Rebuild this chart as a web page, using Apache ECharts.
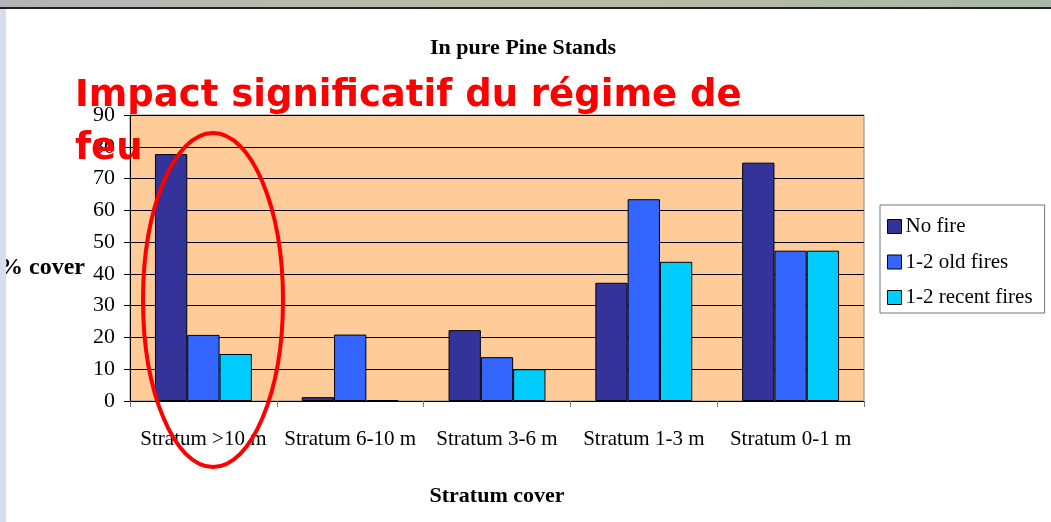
<!DOCTYPE html>
<html>
<head>
<meta charset="utf-8">
<script src="https://cdn.jsdelivr.net/npm/echarts@6/dist/echarts.min.js"></script>
<style>
  html, body { margin: 0; padding: 0; background: #fff; }
  #main { width: 1051px; height: 522px; }
</style>
</head>
<body>
<div id="main"></div>
<script>
const categories = ['Stratum >10 m', 'Stratum 6-10 m', 'Stratum 3-6 m', 'Stratum 1-3 m', 'Stratum 0-1 m'];
const noFire = [77.7, 1.2, 22.3, 37.2, 75.0];
const oldFires = [20.8, 20.9, 13.8, 63.5, 47.3];
const recentFires = [14.8, 0.3, 10.0, 43.8, 47.3];
const seriesNames = ['No fire', '1-2 old fires', '1-2 recent fires'];

const serif = '"Liberation Serif", "Times New Roman", serif';

function barSeries(name, data, color) {
  return {
    name: name,
    type: 'bar',
    data: data,
    barGap: '0%',
    barCategoryGap: '34%',
    itemStyle: {
      color: color,
      borderColor: '#000',
      borderWidth: 1
    }
  };
}

const chart = echarts.init(document.getElementById('main'), null, { renderer: 'canvas' });

const option = {
  animation: false,
  backgroundColor: '#fff',
  title: {
    text: 'In pure Pine Stands',
    left: 518,
    top: 32,
    textAlign: 'center',
    textStyle: { fontFamily: serif, fontSize: 22, fontWeight: 'bold', color: '#000' }
  },
  legend: {
    orient: 'vertical',
    left: 880,
    top: 205,
    padding: [11, 12, 5, 7],
    itemGap: 14.5,
    itemWidth: 14,
    itemHeight: 14,
    icon: 'rect',
    borderColor: '#777',
    borderWidth: 1,
    data: seriesNames,
    itemStyle: { borderColor: '#000', borderWidth: 1 },
    textStyle: { fontFamily: serif, fontSize: 21, color: '#000', padding: [0, 0, 0, -1] }
  },
  grid: {
    left: 130,
    right: 187,
    top: 115,
    bottom: 121,
    show: true,
    backgroundColor: '#FFCC99',
    borderColor: '#888',
    borderWidth: 1
  },
  xAxis: {
    type: 'category',
    data: categories,
    name: 'Stratum cover',
    nameLocation: 'middle',
    nameGap: 84,
    nameTextStyle: { fontFamily: serif, fontSize: 22, fontWeight: 'bold', color: '#000' },
    axisLine: { lineStyle: { color: '#000', width: 1 } },
    axisTick: { show: true, length: 6, lineStyle: { color: '#777' } },
    axisLabel: { fontFamily: serif, fontSize: 21, color: '#000', margin: 28, interval: 0 }
  },
  yAxis: {
    type: 'value',
    min: 0,
    max: 90,
    interval: 10,
    axisLine: { show: true, lineStyle: { color: '#000', width: 1 } },
    axisTick: { show: true, length: 6, lineStyle: { color: '#000' } },
    axisLabel: { fontFamily: serif, fontSize: 22, color: '#000', margin: 15 },
    splitLine: { show: true, lineStyle: { color: '#000', width: 1 } }
  },
  series: [
    barSeries(seriesNames[0], noFire, '#333399'),
    barSeries(seriesNames[1], oldFires, '#3366FF'),
    barSeries(seriesNames[2], recentFires, '#00CCFF')
  ],
  graphic: [
    // y axis name
    {
      type: 'text',
      style: {
        x: 85, y: 268,
        text: '% cover',
        align: 'right',
        verticalAlign: 'middle',
        font: 'bold 24px ' + serif,
        fill: '#000'
      },
      z: 10
    },
    // window chrome
    {
      type: 'rect',
      shape: { x: 0, y: 0, width: 1051, height: 7 },
      style: {
        fill: new echarts.graphic.LinearGradient(0, 0, 1, 0, [
          { offset: 0, color: '#b4b4b8' },
          { offset: 0.5, color: '#bcbca4' },
          { offset: 1, color: '#a8b8a8' }
        ])
      },
      z: 20
    },
    {
      type: 'rect',
      shape: { x: 0, y: 7, width: 1051, height: 2 },
      style: { fill: '#222' },
      z: 20
    },
    {
      type: 'rect',
      shape: { x: 0, y: 9, width: 6, height: 513 },
      style: { fill: '#d6dfee' },
      z: 20
    },
    // annotation
    {
      type: 'ellipse',
      shape: { cx: 213, cy: 300, rx: 70, ry: 167 },
      style: { fill: null, stroke: '#ff0000', lineWidth: 4 },
      z: 30
    },
    {
      type: 'text',
      style: {
        x: 75, y: 96,
        text: 'Impact significatif du régime de',
        verticalAlign: 'middle',
        font: 'bold 37px "DejaVu Sans", sans-serif',
        fill: '#ff0000'
      },
      z: 31
    },
    {
      type: 'text',
      style: {
        x: 75, y: 149,
        text: 'feu',
        verticalAlign: 'middle',
        font: 'bold 37px "DejaVu Sans", sans-serif',
        fill: '#ff0000'
      },
      z: 31
    }
  ]
};

chart.setOption(option);
</script>
</body>
</html>
